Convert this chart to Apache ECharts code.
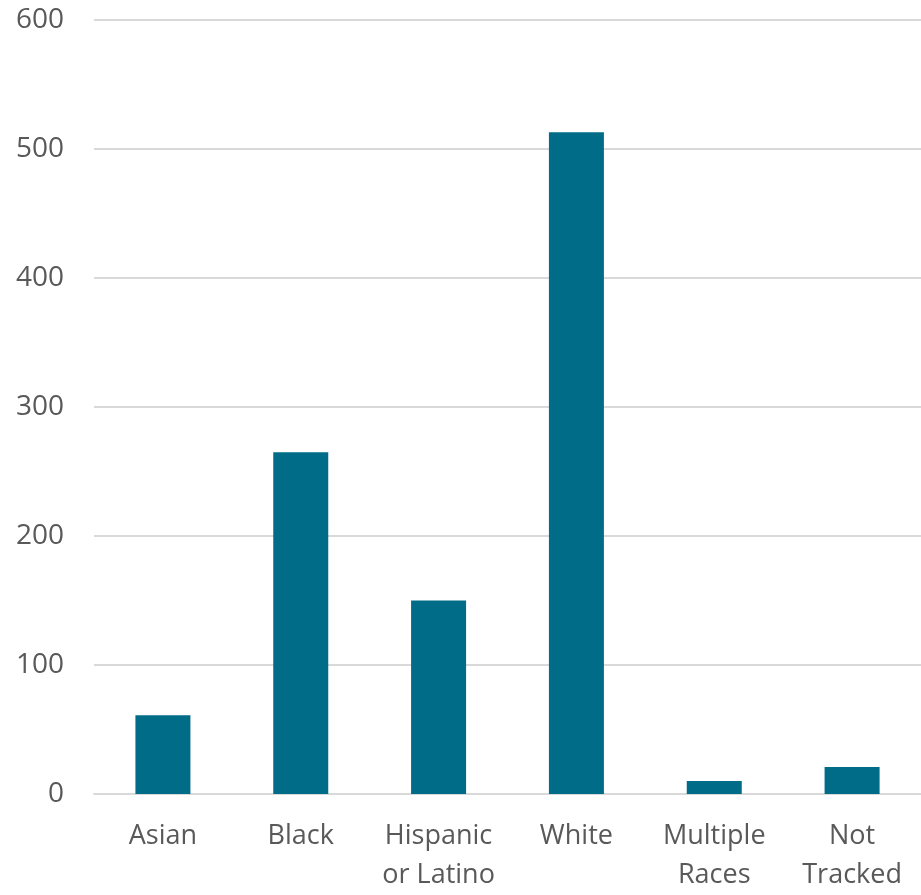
<!DOCTYPE html>
<html><head><meta charset="utf-8">
<script src="https://cdn.jsdelivr.net/npm/echarts@6/dist/echarts.min.js"></script>
<style>html,body{margin:0;padding:0;background:#fff;overflow:hidden}#c{width:921px;height:895px}</style>
</head><body><div id="c"></div>
<script>
const categories = ['Asian', 'Black', 'Hispanic\nor Latino', 'White', 'Multiple\nRaces', 'Not\nTracked'];
const values = [61, 265, 150, 513, 10, 21];
const yTicks = { min: 0, max: 600, interval: 100 };

const chart = echarts.init(document.getElementById('c'), null, { renderer: 'canvas', width: 921, height: 895 });
chart.setOption({
  animation: false,
  grid: { left: 94, top: 20, width: 834, height: 780, containLabel: false },
  xAxis: {
    type: 'category',
    data: categories,
    axisLine: { lineStyle: { color: '#d9d9d9', width: 2 } },
    axisTick: { show: false },
    axisLabel: { color: '#595959', fontSize: 27, fontFamily: 'Open Sans, Noto Sans, sans-serif', lineHeight: 39, margin: 23, interval: 0 }
  },
  yAxis: {
    type: 'value',
    min: yTicks.min, max: yTicks.max, interval: yTicks.interval,
    axisLine: { show: false },
    axisTick: { show: false },
    splitLine: { lineStyle: { color: '#d9d9d9', width: 2 } },
    axisLabel: { color: '#595959', fontSize: 28, fontFamily: 'Open Sans, Noto Sans, sans-serif', margin: 30 }
  },
  series: [{
    type: 'bar',
    data: values,
    barWidth: 55,
    itemStyle: { color: '#006C87' }
  }]
});
</script></body></html>
